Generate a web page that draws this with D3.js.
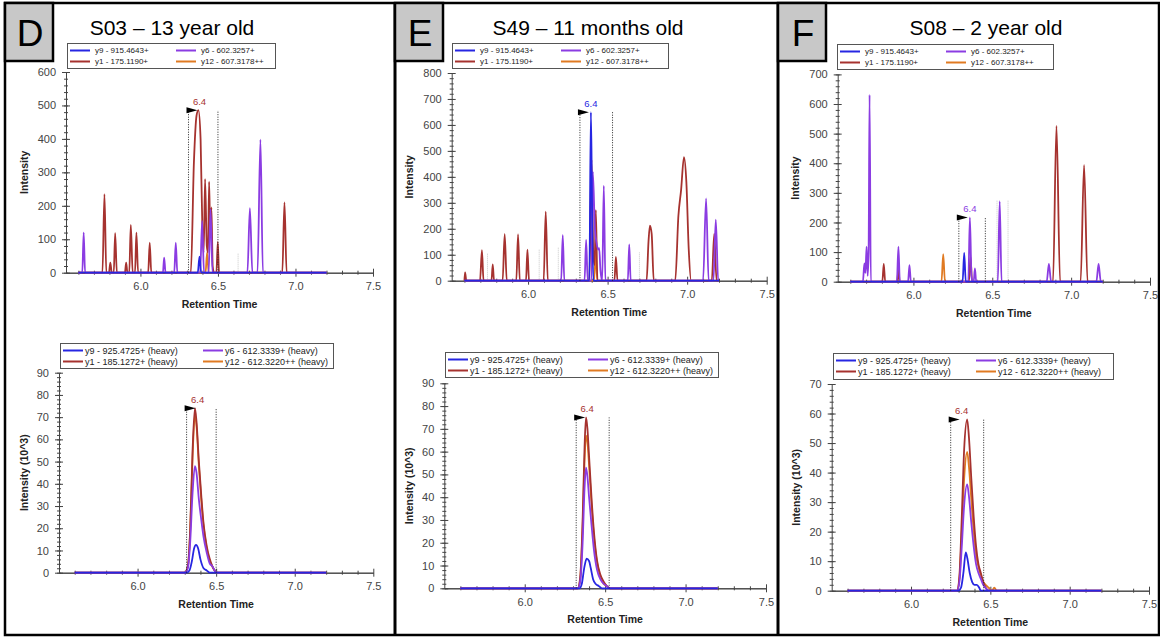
<!DOCTYPE html>
<html>
<head>
<meta charset="utf-8">
<script src="https://cdn.jsdelivr.net/npm/d3@7"></script>
<style>
  body { margin: 0; background: #fff; }
  svg { display: block; }
  text { font-family: "Liberation Sans", Arial, sans-serif; }
</style>
</head>
<body>
<svg id="fig" width="1160" height="637"></svg>
<script>
// ---- data ----
var letters = ["D", "E", "F"];
var titles = ["S03 \u2013 13 year old", "S49 \u2013 11 months old", "S08 \u2013 2 year old"];
var ionKeys = ["y9", "y1", "y6", "y12"];
var lightLabels = ["y9 - 915.4643+", "y1 - 175.1190+", "y6 - 602.3257+", "y12 - 607.3178++"];
var heavyLabels = ["y9 - 925.4725+ (heavy)", "y1 - 185.1272+ (heavy)", "y6 - 612.3339+ (heavy)", "y12 - 612.3220++ (heavy)"];
var xTicks = [6.0, 6.5, 7.0, 7.5];
var topYMax = [600, 800, 700];
var bottomYMax = [90, 90, 70];
var rtText = "6.4";
var topWinStart = [6.31, 6.326, 6.288];
var topWinEnd = [6.50, 6.531, 6.456];
var topApex = [486, 649, 217];
var topApexIon = ["y1", "y9", "y6"];
var bottomWinStart = [6.312, 6.32, 6.25];
var bottomWinEnd = [6.50, 6.525, 6.458];
var bottomApex = [74, 75, 58];
var bottomApexIon = ["y1", "y1", "y1"];
// faint peak boundary marks [time, height]
var dTopFaint = [[6.63, 58]];
var eTopFaint = [[5.745, 105], [6.07, 120], [6.19, 130], [6.70, 110]];
var fTopFaint = [[6.53, 275], [6.60, 275]];

// D light
var dTopY9 = [[5.6,0],[6.37,0],[6.381,48],[6.392,0],[7.2,0]];
var dTopY1 = [[5.6,0],[5.755,0],[5.768,235],[5.78,0],[5.797,0],[5.806,30],[5.815,0],[5.828,0],[5.837,118],[5.848,0],
  [5.9,0],[5.908,30],[5.916,0],[5.928,0],[5.938,143],[5.95,0],[5.965,0],[5.974,120],[5.985,0],[6.05,0],[6.06,90],[6.07,0],
  [6.325,0],[6.345,330],[6.362,470],[6.374,486],[6.388,400],[6.4,120],[6.408,60],[6.417,280],[6.428,80],[6.436,60],
  [6.443,272],[6.45,120],[6.458,195],[6.466,20],[6.475,0],[6.49,0],[6.499,92],[6.507,0],[6.915,0],[6.929,210],[6.943,0],[7.2,0]];
var dTopY6 = [[5.6,0],[5.625,0],[5.634,120],[5.643,0],[6.145,0],[6.153,45],[6.162,0],[6.218,0],[6.228,90],[6.238,0],
  [6.385,0],[6.398,155],[6.41,0],[6.44,0],[6.452,190],[6.465,0],[6.69,0],[6.706,193],[6.722,0],[6.755,0],[6.774,398],[6.79,0],[7.2,0]];
var dTopY12 = [[5.6,0],[6.42,0],[6.43,60],[6.44,0],[7.2,0]];
// D heavy (10^3)
var dBotY9 = [[5.6,0],[6.31,0],[6.33,1],[6.345,5],[6.36,11],[6.372,12.5],[6.385,11],[6.4,6],[6.42,2],[6.44,1],[6.46,0],[7.2,0]];
var dBotY1 = [[5.6,0],[6.3,0],[6.32,3],[6.335,20],[6.35,55],[6.365,74],[6.375,68],[6.39,50],[6.405,35],[6.42,22],[6.44,12],[6.46,6],[6.475,3],[6.49,1],[6.51,0],[7.2,0]];
var dBotY6 = [[5.6,0],[6.3,0],[6.32,2],[6.335,14],[6.35,36],[6.365,48],[6.375,45],[6.39,33],[6.405,24],[6.42,16],[6.44,9],[6.46,4],[6.475,3],[6.49,1],[6.51,0],[7.2,0]];
var dBotY12 = [[5.6,0],[6.3,0],[6.32,3],[6.335,19],[6.35,52],[6.365,71],[6.375,66],[6.39,48],[6.405,33],[6.42,21],[6.44,11],[6.46,5],[6.475,3],[6.49,1],[6.51,0],[7.2,0]];

// E light
var eTopY9 = [[5.6,0],[6.385,0],[6.395,649],[6.402,300],[6.41,0],[7.2,0]];
var eTopY1 = [[5.6,0],[5.604,32],[5.612,0],[5.698,0],[5.71,118],[5.72,0],[5.77,0],[5.778,63],[5.786,0],[5.84,0],[5.853,179],[5.866,0],
  [5.926,0],[5.937,178],[5.948,0],[5.987,0],[5.996,120],[6.006,0],[6.098,0],[6.111,266],[6.124,0],
  [6.385,0],[6.399,466],[6.41,100],[6.418,60],[6.426,272],[6.436,0],[6.543,0],[6.552,92],[6.562,0],
  [6.745,0],[6.757,150],[6.766,212],[6.777,180],[6.79,0],[6.925,0],[6.945,250],[6.962,350],[6.98,476],[6.995,380],[7.01,120],[7.025,0],
  [7.155,0],[7.17,180],[7.185,0],[7.2,0]];
var eTopY6 = [[5.6,0],[6.208,0],[6.218,175],[6.228,0],[6.355,0],[6.365,157],[6.375,0],[6.398,0],[6.407,420],[6.42,200],[6.432,140],
  [6.44,120],[6.447,125],[6.455,40],[6.466,0],[6.476,366],[6.486,0],[6.627,0],[6.636,140],[6.645,0],[7.1,0],[7.119,317],[7.135,0],
  [7.165,0],[7.18,235],[7.195,0],[7.2,0]];
var eTopY12 = [[5.6,0],[6.415,0],[6.425,110],[6.435,0],[7.2,0]];
// E heavy
var eBotY9 = [[5.6,0],[6.34,0],[6.355,2],[6.37,9],[6.385,13],[6.4,12],[6.41,9],[6.425,4],[6.44,2],[6.46,1],[6.48,0],[7.2,0]];
var eBotY1 = [[5.6,0],[6.33,0],[6.345,5],[6.36,30],[6.372,62],[6.381,75],[6.39,70],[6.4,58],[6.415,40],[6.43,25],[6.45,12],[6.47,6],[6.49,3],[6.51,1],[6.53,0],[7.2,0]];
var eBotY6 = [[5.6,0],[6.33,0],[6.345,3],[6.36,20],[6.372,44],[6.381,53],[6.39,49],[6.4,40],[6.415,28],[6.43,17],[6.45,8],[6.47,4],[6.49,2],[6.51,1],[6.53,0],[7.2,0]];
var eBotY12 = [[5.6,0],[6.33,0],[6.345,4],[6.36,27],[6.372,56],[6.381,67],[6.39,64],[6.4,54],[6.415,37],[6.43,23],[6.45,11],[6.47,5],[6.49,2],[6.51,1],[6.53,0],[7.2,0]];

// F light
var fTopY9 = [[5.6,0],[6.312,0],[6.322,97],[6.332,0],[7.2,0]];
var fTopY1 = [[5.6,0],[5.803,0],[5.812,60],[5.821,0],[5.897,0],[5.905,40],[5.913,0],[6.352,0],[6.362,85],[6.372,0],
  [6.885,0],[6.907,526],[6.93,0],[7.06,0],[7.082,394],[7.104,0],[7.2,0]];
var fTopY6 = [[5.6,0],[5.68,0],[5.689,62],[5.696,30],[5.703,118],[5.71,20],[5.716,100],[5.722,631],[5.73,0],
  [5.895,0],[5.905,118],[5.914,0],[5.966,0],[5.975,56],[5.984,0],[6.348,0],[6.358,217],[6.368,20],[6.374,0],
  [6.382,0],[6.39,45],[6.398,0],[6.535,0],[6.547,272],[6.559,0],[6.845,0],[6.859,60],[6.873,0],[7.16,0],[7.174,60],[7.188,0],[7.2,0]];
var fTopY12 = [[5.6,0],[6.178,0],[6.189,93],[6.2,0],[7.2,0]];
// F heavy
var fBotY9 = [[5.6,0],[6.3,0],[6.315,1],[6.33,6],[6.345,13],[6.355,11],[6.37,6],[6.385,3],[6.4,2],[6.415,2],[6.43,1],[6.44,0],[7.2,0]];
var fBotY1 = [[5.6,0],[6.29,0],[6.305,5],[6.32,25],[6.335,48],[6.354,58],[6.365,52],[6.38,38],[6.395,25],[6.41,15],[6.425,9],[6.44,6],[6.455,3],[6.47,1],[6.49,0],[7.2,0]];
var fBotY6 = [[5.6,0],[6.29,0],[6.305,3],[6.32,15],[6.335,29],[6.354,36],[6.365,32],[6.38,23],[6.395,15],[6.41,9],[6.425,6],[6.44,4],[6.455,2],[6.47,1],[6.49,0],[7.2,0]];
var fBotY12 = [[5.6,0],[6.29,0],[6.305,4],[6.32,20],[6.335,38],[6.354,47],[6.365,42],[6.38,31],[6.395,20],[6.41,12],[6.425,8],[6.44,5],[6.455,3],[6.47,2],[6.49,1],[6.51,0],[6.525,1],[6.54,0],[7.2,0]];

var topSeries = [
  {y9: dTopY9, y1: dTopY1, y6: dTopY6, y12: dTopY12},
  {y9: eTopY9, y1: eTopY1, y6: eTopY6, y12: eTopY12},
  {y9: fTopY9, y1: fTopY1, y6: fTopY6, y12: fTopY12}];
var bottomSeries = [
  {y9: dBotY9, y1: dBotY1, y6: dBotY6, y12: dBotY12},
  {y9: eBotY9, y1: eBotY1, y6: eBotY6, y12: eBotY12},
  {y9: fBotY9, y1: fBotY1, y6: fBotY6, y12: fBotY12}];
var topFaint = [dTopFaint, eTopFaint, fTopFaint];

// ---- layout / style ----
var ionColor = {y9: "#2626e2", y1: "#a6322f", y6: "#8b3ce2", y12: "#e07a22"};
var drawOrder = ["y12", "y1", "y6", "y9"];
var panelLeft = [5, 395, 778];
var titleX = [172, 588, 986];
var layouts = [
  {top: {xs: 5.52, x0: 66, x1: 373, y0: 272.7, y1: 72, leg: [67, 43, 208, 25]},
   bottom: {xs: 5.5, x0: 59, x1: 373.3, y0: 572.7, y1: 372.7, leg: [60, 343, 273, 25]}},
  {top: {xs: 5.52, x0: 451.7, x1: 766.7, y0: 280.7, y1: 73, leg: [452, 43, 216, 25]},
   bottom: {xs: 5.5, x0: 444.3, x1: 766, y0: 588.3, y1: 383.3, leg: [445, 352, 273, 25]}},
  {top: {xs: 5.52, x0: 837.7, x1: 1150, y0: 281.7, y1: 74.4, leg: [837, 44, 216, 25]},
   bottom: {xs: 5.5, x0: 831.7, x1: 1149, y0: 590.7, y1: 384, leg: [833, 353, 280, 26]}}
];

var svg = d3.select("#fig");

function drawChart(lay, series, opts) {
    var g = svg.append("g");
    var x = d3.scaleLinear().domain([lay.xs, 7.5]).range([lay.x0, lay.x1]);
    var y = d3.scaleLinear().domain([0, opts.yMax]).range([lay.y0, lay.y1]);

    // faint boundary marks
    (opts.faint || []).forEach(function(f) {
        g.append("line").attr("x1", x(f[0])).attr("x2", x(f[0]))
            .attr("y1", y(0)).attr("y2", y(f[1]))
            .attr("stroke", "#c8c8c8").attr("stroke-width", 1).attr("stroke-dasharray", "1,1");
    });

    // x axis
    var minor = d3.range(56, 75).map(function(d){ return d / 10; }).filter(function(d){ return xTicks.indexOf(d) < 0; });
    var xm = g.append("g").attr("transform", "translate(0," + lay.y0 + ")")
        .call(d3.axisBottom(x).tickValues(minor).tickSize(2).tickSizeOuter(0).tickFormat(""));
    xm.selectAll(".tick line").attr("y1", -2);
    var xa = g.append("g").attr("transform", "translate(0," + lay.y0 + ")")
        .call(d3.axisBottom(x).tickValues(xTicks).tickSize(4).tickPadding(6).tickSizeOuter(0).tickFormat(d3.format(".1f")));
    xa.selectAll(".tick line").attr("y1", -4);

    // y axis
    var ya = g.append("g").attr("transform", "translate(" + lay.x0 + ",0)")
        .call(d3.axisLeft(y).tickValues(d3.range(0, opts.yMax + 1, opts.yStep)).tickSize(4).tickPadding(6).tickSizeOuter(0));
    ya.selectAll(".tick line").attr("x1", 4);
    var ym = g.append("g").attr("transform", "translate(" + lay.x0 + ",0)")
        .call(d3.axisLeft(y).tickValues(d3.range(0, opts.yMax + 0.001, opts.yStep / 5)).tickSize(2).tickSizeOuter(0).tickFormat(""));
    ym.selectAll(".tick line").attr("x1", 2);
    ym.select(".domain").remove();

    g.selectAll(".domain").attr("stroke", "#444");
    g.selectAll(".tick line").attr("stroke", "#444");
    g.selectAll(".tick text").attr("font-size", 11).attr("fill", "#444")
        .attr("font-family", "'Liberation Sans', Arial, sans-serif");

    // traces
    var line = d3.line().x(function(d){ return x(d[0]); }).y(function(d){ return y(d[1]); }).curve(d3.curveMonotoneX);
    drawOrder.forEach(function(k) {
        g.append("path").datum(series[k]).attr("d", line)
            .attr("fill", "none").attr("stroke", ionColor[k]).attr("stroke-width", 1.8)
            .attr("stroke-linejoin", "round");
    });

    // integration window
    var xl = x(opts.winStart), xr = x(opts.winEnd), yt = y(opts.apex);
    [xl, xr].forEach(function(xx) {
        g.append("line").attr("x1", xx).attr("x2", xx).attr("y1", y(0)).attr("y2", yt)
            .attr("stroke", "#222").attr("stroke-width", 1).attr("stroke-dasharray", "1,1.5");
    });
    g.append("path").attr("d", "M" + (xl - 2) + "," + (yt - 3) + "L" + (xl + 9) + "," + yt + "L" + (xl - 2) + "," + (yt + 3) + "Z")
        .attr("fill", "#000");
    g.append("text").attr("x", xl + 11).attr("y", yt - 5).attr("text-anchor", "middle")
        .attr("font-size", 9.5).attr("fill", ionColor[opts.apexIon]).text(rtText);

    // axis titles
    g.append("text").attr("x", (lay.x0 + lay.x1) / 2).attr("y", lay.y0 + 35)
        .attr("text-anchor", "middle").attr("font-size", 10.5).attr("font-weight", "bold").attr("fill", "#222")
        .text("Retention Time");
    var ty = (lay.y0 + lay.y1) / 2, tx = lay.x0 - opts.titleGap;
    g.append("text").attr("transform", "translate(" + tx + "," + ty + ") rotate(-90)")
        .attr("text-anchor", "middle").attr("dy", "0.35em").attr("font-size", 10.5).attr("font-weight", "bold").attr("fill", "#222")
        .text(opts.yTitle);

    // legend
    var L = lay.leg;
    var lg = g.append("g").attr("transform", "translate(" + L[0] + "," + L[1] + ")");
    lg.append("rect").attr("x", 0.5).attr("y", 0.5).attr("width", L[2]).attr("height", L[3])
        .attr("fill", "#fff").attr("stroke", "#555").attr("stroke-width", 1);
    ionKeys.forEach(function(k, i) {
        var col = Math.floor(i / 2), row = i % 2;
        var cx = col * opts.legCol, cy = 7.5 + row * 11;
        lg.append("line").attr("x1", cx + 3).attr("x2", cx + 23).attr("y1", cy).attr("y2", cy)
            .attr("stroke", ionColor[k]).attr("stroke-width", 2);
        lg.append("text").attr("x", cx + opts.legText).attr("y", cy).attr("dy", "0.35em")
            .attr("font-size", opts.legFont).attr("fill", "#222").text(opts.labels[i]);
    });
}

// panel frames
svg.append("rect").attr("x", 5).attr("y", 3).attr("width", 1154).attr("height", 632)
    .attr("fill", "none").attr("stroke", "#000").attr("stroke-width", 2.5);
[395, 778].forEach(function(xx) {
    svg.append("line").attr("x1", xx).attr("x2", xx).attr("y1", 3).attr("y2", 635)
        .attr("stroke", "#000").attr("stroke-width", 3);
});

letters.forEach(function(letter, i) {
    var left = panelLeft[i];
    svg.append("rect").attr("x", left).attr("y", 3).attr("width", 48).attr("height", 58)
        .attr("fill", "#c8c8c8").attr("stroke", "#000").attr("stroke-width", 2.5);
    svg.append("text").attr("x", left + 25).attr("y", 46).attr("text-anchor", "middle")
        .attr("font-family", "Lato, 'Open Sans', sans-serif").attr("font-size", 37).attr("fill", "#000").text(letter);
    svg.append("text").attr("x", titleX[i]).attr("y", 35).attr("text-anchor", "middle")
        .attr("font-family", "Lato, 'Open Sans', sans-serif").attr("font-size", 21).attr("fill", "#000").text(titles[i]);

    drawChart(layouts[i].top, topSeries[i], {
        yMax: topYMax[i], yStep: 100, winStart: topWinStart[i], winEnd: topWinEnd[i],
        apex: topApex[i], apexIon: topApexIon[i], faint: topFaint[i], yTitle: "Intensity", titleGap: 42,
        labels: lightLabels, legCol: 106, legText: 28, legFont: 8
    });
    drawChart(layouts[i].bottom, bottomSeries[i], {
        yMax: bottomYMax[i], yStep: 10, winStart: bottomWinStart[i], winEnd: bottomWinEnd[i],
        apex: bottomApex[i], apexIon: bottomApexIon[i], faint: [], yTitle: "Intensity (10^3)", titleGap: 35,
        labels: heavyLabels, legCol: 140, legText: 25, legFont: 9
    });
});
</script>
</body>
</html>
